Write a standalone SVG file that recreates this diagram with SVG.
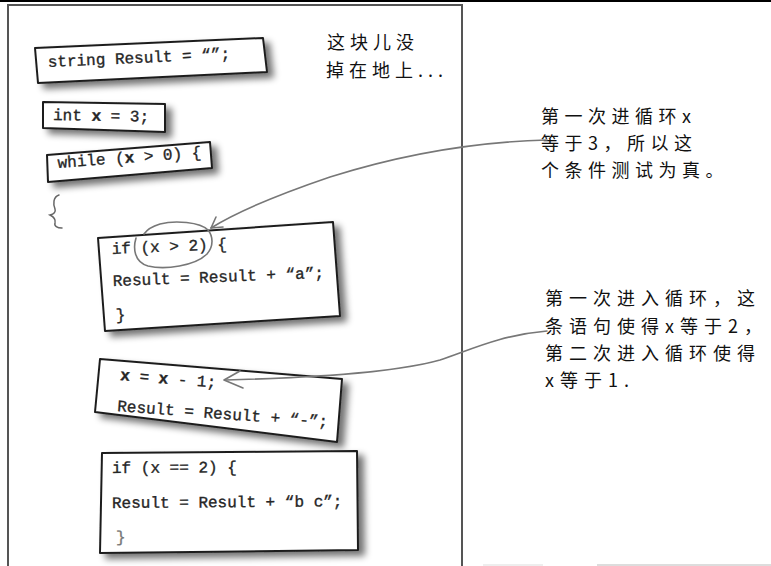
<svg xmlns="http://www.w3.org/2000/svg" width="771" height="566" viewBox="0 0 771 566">
<defs>
<filter id="shadow" x="-15%" y="-40%" width="140%" height="200%">
<feGaussianBlur in="SourceAlpha" stdDeviation="3.5" result="b"/>
<feOffset in="b" dx="6" dy="5" result="o"/>
<feComponentTransfer in="o" result="s"><feFuncA type="linear" slope="0.55"/></feComponentTransfer>
<feMerge><feMergeNode in="s"/><feMergeNode in="SourceGraphic"/></feMerge>
</filter>
<style>
.box{fill:#fff;stroke:#1e1e1e;stroke-width:2;stroke-linejoin:round;filter:url(#shadow)}
.code{font-family:"Liberation Mono","Courier New",monospace;font-size:16px;fill:#262626;stroke:#262626;stroke-width:0.35}
.code .b{font-weight:bold}
.faint{fill:#777;stroke:#777}
.hand{font-family:"Noto Sans CJK SC","Noto Sans CJK JP",sans-serif;font-size:18px;fill:#111}
.frame{fill:none;stroke:#555;stroke-width:2}
.conn{fill:none;stroke:#777;stroke-width:1.6;stroke-linecap:round;stroke-linejoin:round}
.ink{fill:none;stroke:#666;stroke-width:1.5;stroke-linecap:round}
</style>
</defs>
<rect x="0" y="0" width="771" height="566" fill="#fff"/>
<line x1="0" y1="1" x2="771" y2="1" stroke="#000" stroke-width="2"/>
<path class="frame" d="M8,566 L8,5 L462,5 L462,566"/>
<line x1="597" y1="565" x2="771" y2="565" stroke="#bbb" stroke-width="1"/>
<line x1="483" y1="565" x2="543" y2="565" stroke="#ddd" stroke-width="1"/>

<g id="note-top">
<text class="hand" letter-spacing="5" x="327" y="49">这块儿没</text>
<text class="hand" letter-spacing="5" x="326" y="77">掉在地上...</text>
</g>

<g id="node-string">
<polygon class="box" points="35,48 263,38 267,72 38,83"/>
<text class="code" transform="translate(48,67) rotate(-2.6)">string Result = “”;</text>
</g>
<g id="node-int">
<polygon class="box" points="43,102 165,104 165,132 43,128"/>
<text class="code" transform="translate(53,120) rotate(1)">int <tspan class="b">x</tspan> = 3;</text>
</g>
<g id="node-while">
<polygon class="box" points="47,155 210,142 212,168 48,182"/>
<text class="code" transform="translate(58,168) rotate(-4.3)">while (<tspan class="b">x</tspan> &gt; 0) {</text>
</g>
<g id="brace">
<path class="ink" d="M59,195 C53,197 53,204 55,209 C56,212 54,214 50,215 C54,217 56,219 55,223 C54,226 57,228 62,228"/>
</g>
<g id="node-if1">
<polygon class="box" points="98,238 333,222 340,316 105,331"/>
<text class="code" transform="translate(112,254) rotate(-2.5)">if (x &gt; 2) {</text>
<text class="code" transform="translate(113,286) rotate(-2.2)">Result = Result + “a”;</text>
<text class="code" transform="translate(116,320) rotate(-2.5)">}</text>
</g>
<g id="node-dec">
<polygon class="box" points="100,359 342,379 337,442 95,412"/>
<text class="code" transform="translate(120,380) rotate(4.5)"><tspan class="b">x</tspan> = <tspan class="b">x</tspan> - 1;</text>
<text class="code" transform="translate(117,411) rotate(4.3)">Result = Result + “-”;</text>
</g>
<g id="node-if2">
<polygon class="box" points="102,453 357,451 358,550 100,553"/>
<text class="code" transform="translate(112,473) rotate(-0.4)">if (x == 2) {</text>
<text class="code" transform="translate(112,508) rotate(-0.4)">Result = Result + “b c”;</text>
<text class="code faint" transform="translate(116,542) rotate(-0.4)">}</text>
</g>

<g id="note-1">
<text class="hand" letter-spacing="5.5" x="541" y="123">第一次进循环x</text>
<text class="hand" letter-spacing="5.5" x="541" y="150">等于3，所以这</text>
<text class="hand" letter-spacing="5.5" x="541" y="177">个条件测试为真。</text>
</g>
<g id="note-2">
<text class="hand" letter-spacing="6" x="545" y="305">第一次进入循环，这</text>
<text class="hand" letter-spacing="6" x="545" y="333">条语句使得x等于2，</text>
<text class="hand" letter-spacing="6" x="545" y="360">第二次进入循环使得</text>
<text class="hand" letter-spacing="6" x="545" y="387">x等于1.</text>
</g>

<g id="connectors">
<path class="conn" d="M136,238 C133,248 134,262 148,266 C165,270 195,266 207,254 C214,246 213,236 208,230 C200,222 175,220 160,224 C150,227 146,231 144,234"/>
<path class="conn" d="M547,140 C470,142 400,155 330,177 C280,194 240,210 211,228"/>
<path class="conn" d="M216,217 L211,228 L223,227"/>
<path class="conn" d="M547,331 C500,335 470,350 440,360 C390,374 300,378 226,380"/>
<path class="conn" d="M240,371 L224,380 L243,388"/>
</g>
</svg>
